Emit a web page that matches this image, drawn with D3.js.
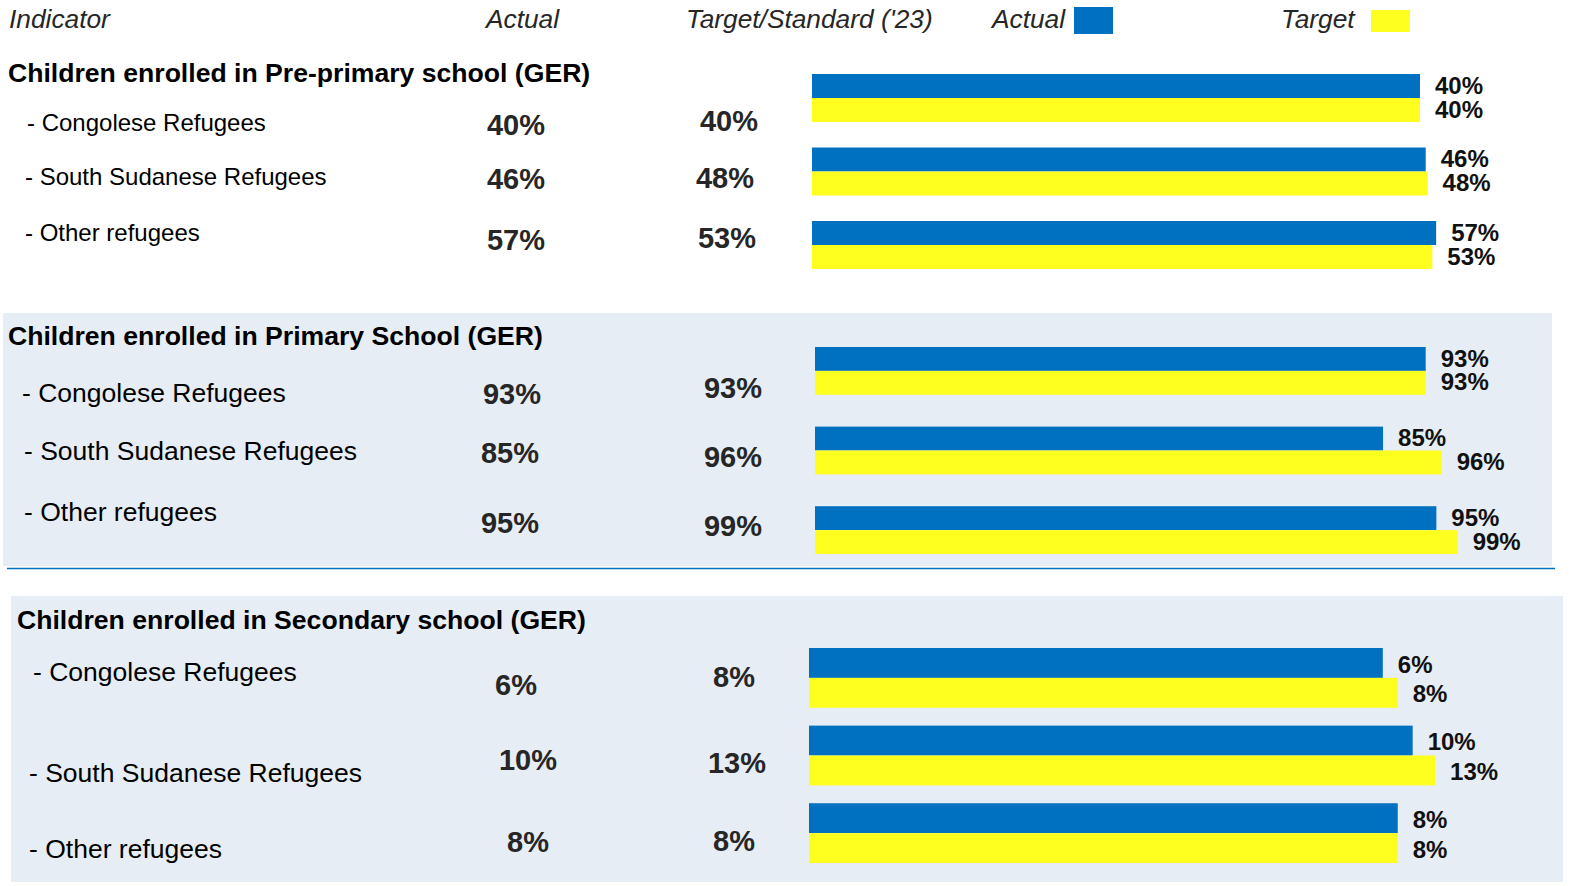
<!DOCTYPE html>
<html>
<head>
<meta charset="utf-8">
<script src="https://cdn.jsdelivr.net/npm/d3@7"></script>
<style>
  body { margin: 0; background: #fff; }
  svg { display: block; font-family: 'Liberation Sans', Arial, sans-serif; }
</style>
</head>
<body>
<svg id="chart"></svg>
<script>
// data
const headers = ['Indicator', 'Actual', "Target/Standard ('23)"];
const legendKeys = ['Actual', 'Target'];
const sectionTitles = [
  'Children enrolled in Pre-primary school (GER)',
  'Children enrolled in Primary School (GER)',
  'Children enrolled in Secondary school (GER)'
];
const groups = ['- Congolese Refugees', '- South Sudanese Refugees', '- Other refugees'];
const actualPre = [40, 46, 57];
const targetPre = [40, 48, 53];
const actualPrimary = [93, 85, 95];
const targetPrimary = [93, 96, 99];
const actualSecondary = [6, 10, 8];
const targetSecondary = [8, 13, 8];

const colors = { Actual: '#0070c0', Target: '#ffff1f' };
const bg = '#e7edf4';

// layout of each block (the bars on the slide are not drawn to one common scale)
const layout = [
  {
    actual: actualPre, target: targetPre, domain: [0, 100], len: [570, 665],
    box: null, title: [8, 82], labelX: [27, 25, 25], labelY: [131, 185, 241], labelSize: 24,
    actX: [516, 516, 516], actY: [135, 189, 250], tgtX: [729, 725, 727], tgtY: [131, 188, 248],
    barX: 812, barY: [74, 269], pad: 0.347
  },
  {
    actual: actualPrimary, target: targetPrimary, domain: [0, 100], len: [115, 648],
    box: [3, 313, 1549, 253], title: [8, 345], labelX: [22, 24, 24], labelY: [402, 460, 521], labelSize: 26.5,
    actX: [512, 510, 510], actY: [404, 463, 533], tgtX: [733, 733, 733], tgtY: [398, 467, 536],
    barX: 815, barY: [347, 554], pad: 0.4
  },
  {
    actual: actualSecondary, target: targetSecondary, domain: [0, 15], len: [529, 641],
    box: [11, 596, 1552, 286], title: [17, 629], labelX: [33, 29, 29], labelY: [681, 782, 858], labelSize: 26.5,
    actX: [516, 528, 528], actY: [695, 770, 852], tgtX: [734, 737, 734], tgtY: [687, 773, 851],
    barX: 809, barY: [648, 863], pad: 0.23
  }
];

const width = 1574;
const height = 886;
const svg = d3.select('#chart')
  .attr('width', width)
  .attr('height', height);

// header row
const headerX = [9, 486, 686];
svg.append('g')
  .selectAll('text')
  .data(headers)
  .enter()
  .append('text')
  .attr('x', (d, i) => headerX[i])
  .attr('y', 28)
  .attr('font-size', 26.3)
  .attr('font-style', 'italic')
  .attr('fill', '#262626')
  .text(d => d);

const legendPos = [
  { tx: 992, rect: [1074, 7, 39, 27] },
  { tx: 1281, rect: [1371, 10, 39, 22] }
];
const legend = svg.append('g')
  .selectAll('g')
  .data(legendKeys)
  .enter()
  .append('g');

legend.append('text')
  .attr('x', (d, i) => legendPos[i].tx)
  .attr('y', 28)
  .attr('font-size', 26.3)
  .attr('font-style', 'italic')
  .attr('fill', '#262626')
  .text(d => d);

legend.append('rect')
  .attr('x', (d, i) => legendPos[i].rect[0])
  .attr('y', (d, i) => legendPos[i].rect[1])
  .attr('width', (d, i) => legendPos[i].rect[2])
  .attr('height', (d, i) => legendPos[i].rect[3])
  .attr('fill', d => colors[d]);

// shaded boxes and divider
layout.forEach(s => {
  if (!s.box) return;
  svg.append('rect')
    .attr('x', s.box[0])
    .attr('y', s.box[1])
    .attr('width', s.box[2])
    .attr('height', s.box[3])
    .attr('fill', bg);
});

svg.append('line')
  .attr('x1', 7)
  .attr('x2', 1555)
  .attr('y1', 568.5)
  .attr('y2', 568.5)
  .attr('stroke', '#0070c0')
  .attr('stroke-width', 1.5);

layout.forEach((s, si) => {
  const g = svg.append('g');

  g.append('text')
    .attr('x', s.title[0])
    .attr('y', s.title[1])
    .attr('font-size', 26.6)
    .attr('font-weight', 'bold')
    .attr('fill', '#000')
    .text(sectionTitles[si]);

  const rows = groups.map((name, i) => ({ name, i, actual: s.actual[i], target: s.target[i] }));

  // table columns
  g.append('g')
    .selectAll('text')
    .data(rows)
    .enter()
    .append('text')
    .attr('x', d => s.labelX[d.i])
    .attr('y', d => s.labelY[d.i])
    .attr('font-size', s.labelSize)
    .attr('fill', '#000')
    .text(d => d.name);

  g.append('g')
    .selectAll('text')
    .data(rows)
    .enter()
    .append('text')
    .attr('x', d => s.actX[d.i])
    .attr('y', d => s.actY[d.i])
    .attr('text-anchor', 'middle')
    .attr('font-size', 29)
    .attr('font-weight', 'bold')
    .attr('fill', '#262626')
    .text(d => `${d.actual}%`);

  g.append('g')
    .selectAll('text')
    .data(rows)
    .enter()
    .append('text')
    .attr('x', d => s.tgtX[d.i])
    .attr('y', d => s.tgtY[d.i])
    .attr('text-anchor', 'middle')
    .attr('font-size', 29)
    .attr('font-weight', 'bold')
    .attr('fill', '#262626')
    .text(d => `${d.target}%`);

  // bars
  const x = d3.scaleLinear()
    .domain(s.domain)
    .range([s.barX + s.len[0], s.barX + s.len[1]]);

  const y0 = d3.scaleBand()
    .domain(groups)
    .range(s.barY)
    .paddingInner(s.pad);

  const y1 = d3.scaleBand()
    .domain(legendKeys)
    .range([0, y0.bandwidth()]);

  const bars = g.append('g')
    .selectAll('g')
    .data(rows)
    .enter()
    .append('g')
    .attr('transform', d => `translate(0, ${y0(d.name)})`)
    .selectAll('g')
    .data(d => legendKeys.map(key => ({ key, value: key === 'Actual' ? d.actual : d.target })))
    .enter()
    .append('g');

  bars.append('rect')
    .attr('x', s.barX)
    .attr('y', d => y1(d.key))
    .attr('width', d => x(d.value) - s.barX)
    .attr('height', y1.bandwidth())
    .attr('fill', d => colors[d.key]);

  bars.append('text')
    .attr('x', d => x(d.value) + 15)
    .attr('y', d => y1(d.key) + y1.bandwidth() * 0.82)
    .attr('font-size', 24)
    .attr('font-weight', 'bold')
    .attr('fill', '#111')
    .text(d => `${d.value}%`);
});
</script>
</body>
</html>
